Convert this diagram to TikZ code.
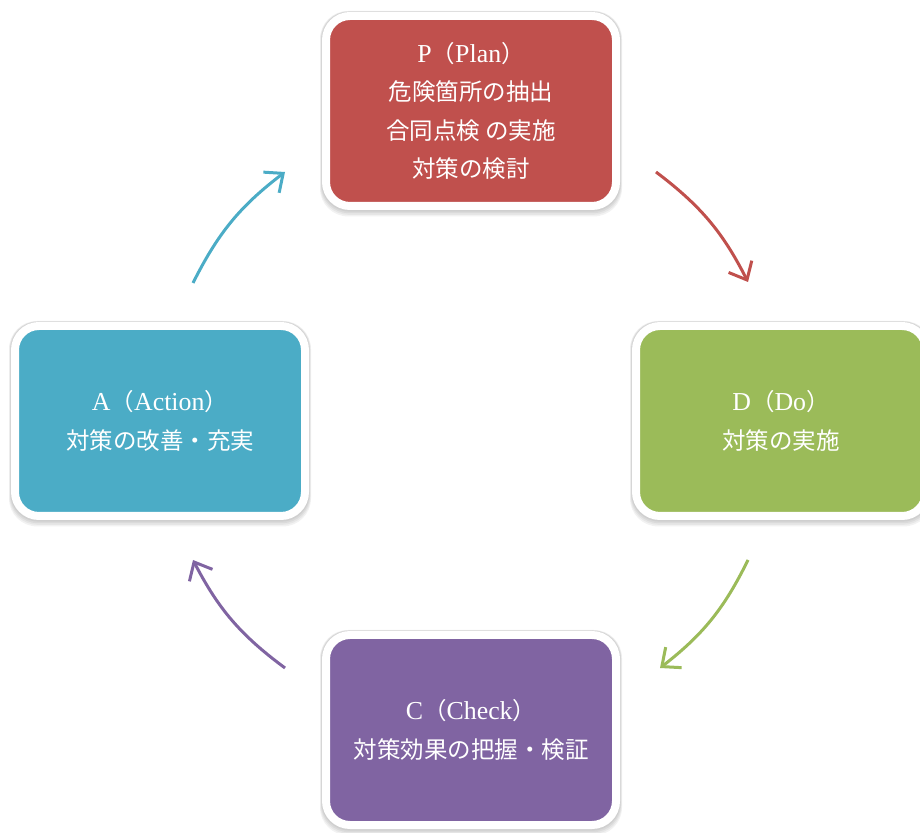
\documentclass[tikz,border=0pt]{standalone}
\usepackage{fontspec}
\setmainfont[Scale=1.1]{Liberation Serif}
\newfontfamily\cjk{Noto Sans CJK JP}
\usetikzlibrary{arrows.meta,backgrounds}
\definecolor{pred}{HTML}{C0504D}
\definecolor{dgreen}{HTML}{9BBB59}
\definecolor{cpurple}{HTML}{8064A2}
\definecolor{ablue}{HTML}{4BACC6}
\newcommand{\jp}[1]{{\cjk #1}}
\begin{document}
\begin{tikzpicture}[x=1pt,y=1pt,
  box/.style={draw=white, line width=8pt, rounded corners=24pt,
    minimum width=290pt, minimum height=190pt, text=white, align=center,
    font=\fontsize{23.5}{38.5}\selectfont},
  shade layer/.style={fill=black, opacity=0.05, rounded corners=28pt},
  cyc/.style={line width=3pt, -{Straight Barb[length=15pt,width=26pt]}}]
\useasboundingbox (0,0) rectangle (920,832);
\node[box, fill=pred] (P) at (471,721)
  {P\jp{（}Plan\jp{）}\\\jp{危険箇所の抽出}\\\jp{合同点検 の実施}\\\jp{対策の検討}};
\node[box, fill=dgreen] (D) at (781,411)
  {D\jp{（}Do\jp{）}\\\jp{対策の実施}};
\node[box, fill=cpurple] (C) at (471,102)
  {C\jp{（}Check\jp{）}\\\jp{対策効果の把握・検証}};
\node[box, fill=ablue] (A) at (160,411)
  {A\jp{（}Action\jp{）}\\\jp{対策の改善・充実}};
\begin{scope}[on background layer]
  \foreach \n in {P,D,C,A}{
    \foreach \k in {1,...,4}{
      \fill[shade layer] ([shift={(-0.5*\k,-1.6*\k)}]\n.south west)
        rectangle ([shift={(0.5*\k,0.25*\k)}]\n.north east);
    }
  }
\end{scope}
\coordinate (r1) at (656,660);
\coordinate (r2) at (748,550);
\coordinate (g1) at (748,272);
\coordinate (g2) at (660,164);
\coordinate (p1) at (285,164);
\coordinate (p2) at (193,272);
\coordinate (b1) at (193,549);
\coordinate (b2) at (285,660);
\draw[cyc, draw=pred] (r1) to[bend left=13] (r2);
\draw[cyc, draw=dgreen] (g1) to[bend left=13] (g2);
\draw[cyc, draw=cpurple] (p1) to[bend left=13] (p2);
\draw[cyc, draw=ablue] (b1) to[bend left=13] (b2);
\end{tikzpicture}
\end{document}
